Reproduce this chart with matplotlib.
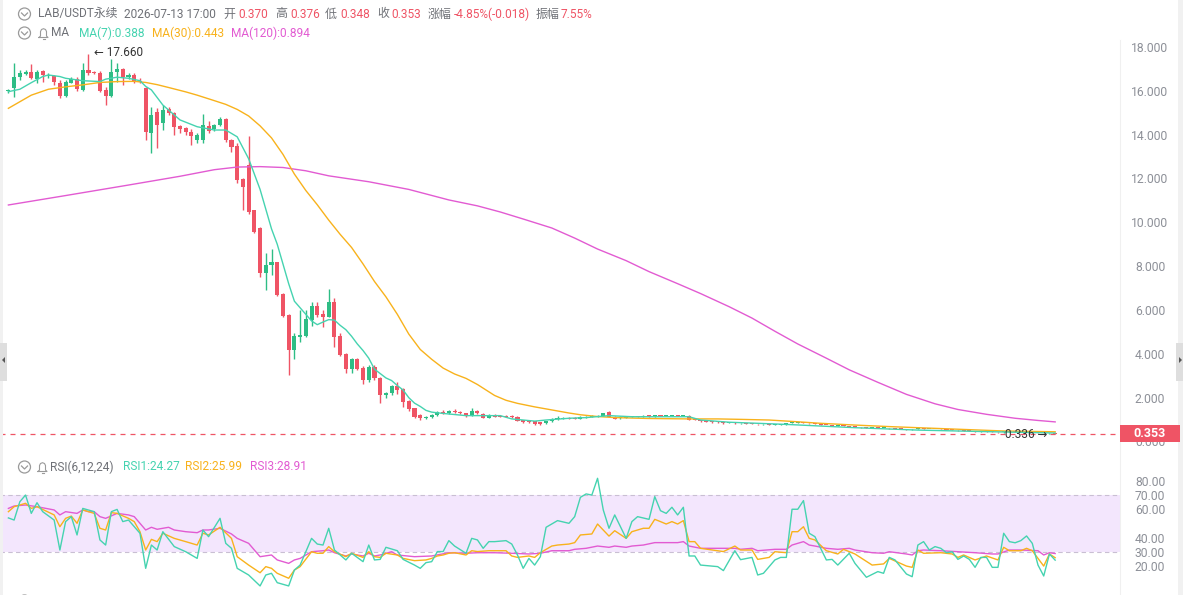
import matplotlib
matplotlib.use("Agg")
import matplotlib.pyplot as plt
from matplotlib.patches import Rectangle, Ellipse, Polygon
from matplotlib.lines import Line2D

plt.rcParams['font.family'] = ['Roboto', 'Noto Sans CJK SC', 'DejaVu Sans']

# ---- candle data (oldest -> newest) ----
opens = [15.98, 16.11, 16.65, 16.75, 16.87, 16.53, 16.90, 16.67, 16.68, 16.37,
         15.76, 16.37, 16.52, 16.04, 16.95, 16.86, 16.83, 16.04, 15.76, 16.87,
         16.98, 16.65, 16.72, 16.45, 16.11, 14.06, 15.05, 14.52, 15.16, 14.97,
         14.40, 14.29, 14.14, 13.76, 13.76, 14.40, 14.24, 14.44, 14.70, 13.76,
         13.48, 11.96, 12.61, 10.56, 9.72, 7.70, 8.03, 8.20, 6.73, 5.77,
         4.17, 4.78, 4.81, 5.54, 6.18, 5.80, 5.69, 6.38, 4.81, 3.99,
         3.29, 3.75, 3.37, 2.80, 3.38, 2.88, 2.12, 2.20, 2.54, 2.38,
         1.86, 1.51, 1.21, 1.06, 1.12, 1.21, 1.36, 1.30, 1.41, 1.33,
         1.28, 1.18, 1.39, 1.24, 1.09, 1.21, 1.18, 1.18, 1.18, 1.13,
         0.98, 0.93, 0.93, 0.87, 0.83, 0.93, 1.02, 1.03, 1.09, 1.09,
         1.03, 1.09, 1.13, 1.13, 1.18, 1.33, 1.13, 1.05, 1.09, 1.13,
         1.15, 1.14, 1.17, 1.16, 1.19, 1.16, 1.17, 1.19, 1.18, 1.18,
         1.03, 0.98, 0.98, 0.93, 0.93, 0.90, 0.84, 0.86, 0.83, 0.85,
         0.82, 0.80, 0.78, 0.79, 0.76, 0.77, 0.78, 0.84, 0.86, 0.88,
         0.85, 0.83, 0.80, 0.76, 0.75, 0.72, 0.73, 0.70, 0.68, 0.66,
         0.64, 0.62, 0.63, 0.61, 0.62, 0.60, 0.58, 0.56, 0.55, 0.58,
         0.59, 0.57, 0.58, 0.56, 0.55, 0.54, 0.52, 0.51, 0.50, 0.48,
         0.46, 0.47, 0.45, 0.43, 0.42, 0.46, 0.45, 0.44, 0.45, 0.46,
         0.44, 0.40, 0.365, 0.370]
closes = [16.05, 16.65, 16.80, 16.85, 16.57, 16.87, 16.72, 16.72, 16.42, 15.76,
          16.42, 16.52, 16.07, 16.95, 16.80, 16.80, 16.01, 15.76, 16.87, 16.98,
          16.65, 16.72, 16.42, 16.38, 14.14, 14.90, 14.44, 15.13, 14.97, 14.37,
          14.24, 14.14, 13.94, 13.98, 14.44, 14.18, 14.44, 14.70, 13.76, 13.45,
          11.93, 11.62, 10.48, 9.57, 7.67, 8.05, 8.20, 6.68, 5.72, 4.17,
          4.81, 4.86, 5.57, 6.18, 5.77, 5.69, 6.38, 4.78, 3.94, 3.29,
          3.75, 3.29, 2.80, 3.41, 2.88, 2.12, 2.20, 2.54, 2.35, 1.82,
          1.47, 1.13, 1.06, 1.12, 1.21, 1.36, 1.30, 1.38, 1.33, 1.28,
          1.18, 1.38, 1.28, 1.09, 1.21, 1.13, 1.13, 1.13, 1.12, 0.94,
          0.87, 0.87, 0.78, 0.78, 0.93, 1.02, 1.09, 1.09, 1.03, 1.03,
          1.13, 1.13, 1.18, 1.18, 1.28, 1.13, 1.03, 1.13, 1.13, 1.15,
          1.14, 1.17, 1.16, 1.19, 1.17, 1.18, 1.19, 1.18, 1.19, 0.98,
          0.98, 0.93, 0.90, 0.87, 0.87, 0.84, 0.86, 0.83, 0.85, 0.82,
          0.80, 0.78, 0.79, 0.76, 0.77, 0.78, 0.84, 0.86, 0.88, 0.85,
          0.83, 0.80, 0.76, 0.75, 0.72, 0.73, 0.70, 0.68, 0.66, 0.64,
          0.62, 0.63, 0.61, 0.62, 0.60, 0.58, 0.56, 0.55, 0.58, 0.59,
          0.57, 0.58, 0.56, 0.55, 0.54, 0.52, 0.51, 0.50, 0.48, 0.46,
          0.47, 0.45, 0.43, 0.42, 0.46, 0.45, 0.44, 0.45, 0.46, 0.44,
          0.40, 0.37, 0.370, 0.353]
highs = [16.10, 17.29, 16.95, 16.95, 17.22, 16.95, 16.95, 16.80, 16.72, 16.50,
         16.50, 16.62, 16.62, 17.26, 17.66, 16.88, 16.88, 16.19, 17.44, 17.26,
         17.03, 16.80, 16.80, 16.57, 16.19, 15.28, 15.20, 15.35, 15.28, 15.05,
         14.44, 14.34, 14.24, 14.06, 14.94, 14.60, 14.49, 14.79, 14.74, 13.79,
         13.60, 12.00, 13.94, 10.56, 9.80, 8.61, 8.76, 8.20, 6.76, 5.80,
         4.93, 5.99, 5.99, 6.38, 6.38, 6.00, 6.94, 6.53, 4.93, 4.02,
         3.79, 3.79, 3.45, 3.49, 3.49, 2.96, 2.27, 2.58, 2.73, 2.43,
         1.90, 1.55, 1.25, 1.16, 1.25, 1.40, 1.44, 1.42, 1.50, 1.38,
         1.30, 1.55, 1.44, 1.28, 1.24, 1.25, 1.20, 1.20, 1.19, 1.15,
         1.00, 0.95, 0.95, 0.89, 0.95, 1.05, 1.18, 1.12, 1.11, 1.11,
         1.15, 1.15, 1.20, 1.20, 1.30, 1.39, 1.15, 1.15, 1.15, 1.17,
         1.17, 1.19, 1.19, 1.21, 1.21, 1.20, 1.21, 1.21, 1.21, 1.20,
         1.05, 1.00, 1.00, 0.95, 0.95, 0.92, 0.88, 0.87, 0.86, 0.86,
         0.83, 0.81, 0.80, 0.80, 0.78, 0.79, 0.85, 0.90, 0.89, 0.89,
         0.86, 0.84, 0.81, 0.77, 0.76, 0.74, 0.74, 0.71, 0.69, 0.67,
         0.65, 0.64, 0.64, 0.63, 0.63, 0.61, 0.59, 0.57, 0.59, 0.60,
         0.60, 0.59, 0.59, 0.57, 0.56, 0.55, 0.53, 0.52, 0.51, 0.49,
         0.48, 0.48, 0.46, 0.44, 0.47, 0.47, 0.46, 0.46, 0.47, 0.47,
         0.45, 0.41, 0.38, 0.376]
lows = [15.92, 15.73, 16.50, 16.70, 16.53, 16.35, 16.38, 16.60, 16.26, 15.66,
        15.73, 16.34, 16.01, 16.01, 16.72, 16.75, 15.96, 15.35, 15.73, 16.42,
        16.27, 16.52, 16.37, 16.34, 13.76, 13.15, 13.38, 14.22, 14.90, 13.98,
        14.06, 13.98, 13.53, 13.64, 13.60, 14.06, 14.18, 14.40, 13.68, 13.22,
        11.78, 10.56, 10.40, 9.49, 7.52, 6.91, 7.60, 6.64, 5.69, 3.03,
        3.75, 4.55, 4.78, 5.27, 5.66, 5.24, 5.66, 4.33, 3.90, 3.11,
        3.11, 3.26, 2.62, 2.73, 2.80, 1.77, 2.00, 2.12, 2.17, 1.59,
        1.40, 1.08, 0.98, 1.02, 1.08, 1.18, 1.26, 1.26, 1.30, 1.24,
        1.14, 1.15, 1.25, 1.05, 1.06, 1.10, 1.10, 1.11, 1.09, 0.92,
        0.85, 0.85, 0.76, 0.75, 0.80, 0.91, 1.00, 1.01, 1.01, 1.01,
        1.01, 1.07, 1.11, 1.11, 1.16, 1.11, 1.01, 1.03, 1.07, 1.11,
        1.12, 1.12, 1.14, 1.14, 1.15, 1.15, 1.15, 1.16, 1.16, 0.96,
        0.96, 0.91, 0.88, 0.85, 0.85, 0.82, 0.83, 0.82, 0.82, 0.80,
        0.78, 0.76, 0.77, 0.75, 0.75, 0.76, 0.77, 0.83, 0.85, 0.84,
        0.82, 0.79, 0.75, 0.74, 0.71, 0.71, 0.69, 0.67, 0.65, 0.63,
        0.61, 0.61, 0.60, 0.60, 0.59, 0.57, 0.55, 0.54, 0.54, 0.57,
        0.56, 0.56, 0.55, 0.54, 0.53, 0.51, 0.50, 0.49, 0.47, 0.45,
        0.45, 0.44, 0.42, 0.41, 0.41, 0.44, 0.43, 0.43, 0.44, 0.43,
        0.39, 0.36, 0.336, 0.348]

# ---- moving averages (candle index, value) ----
ma7_idx = [0, 2, 4, 6, 7, 9, 10, 13, 16, 17, 19, 21, 23, 24, 25, 27, 30, 33, 36, 38,
           40, 41, 42, 43, 44, 45, 46, 47, 48, 49, 50, 51, 52, 53, 54, 55, 56, 57, 58, 59,
           60, 61, 62, 63, 64, 65, 66, 67, 68, 69, 70, 71, 72, 73, 74, 76, 80, 86, 88, 92,
           94, 98, 101, 105, 109, 119, 121, 126, 136, 148, 159, 171, 183]
ma7_val = [15.96, 16.07, 16.37, 16.65, 16.72, 16.65, 16.57, 16.46, 16.42, 16.53, 16.62, 16.57, 16.46, 16.20, 16.04, 15.35, 14.67, 14.36, 14.21, 14.21,
           13.90, 13.40, 12.90, 12.20, 11.50, 10.60, 9.70, 9.00, 8.10, 7.20, 6.40, 6.10, 5.80, 5.50, 5.33, 5.45, 5.56, 5.54, 5.30, 5.10,
           4.80, 4.45, 4.15, 3.80, 3.30, 3.10, 2.90, 2.78, 2.55, 2.35, 2.00, 1.75, 1.60, 1.42, 1.34, 1.28, 1.18, 1.18, 1.03, 0.93,
           0.98, 1.06, 1.09, 1.18, 1.13, 1.13, 0.98, 0.88, 0.78, 0.63, 0.52, 0.45, 0.388]
ma30_idx = [0, 2, 4, 7, 10, 13, 16, 19, 22, 24, 26, 28, 31, 33, 36, 38, 40, 42, 44, 46,
            48, 50, 52, 54, 56, 58, 60, 62, 64, 66, 68, 70, 72, 74, 76, 78, 80, 82, 85, 87,
            89, 92, 95, 98, 100, 103, 106, 112, 119, 124, 128, 133, 138, 142, 148, 154, 160, 165, 170, 174,
            179, 183]
ma30_val = [15.20, 15.50, 15.80, 16.07, 16.18, 16.27, 16.38, 16.42, 16.43, 16.38, 16.28, 16.15, 15.95, 15.80, 15.55, 15.38, 15.15, 14.85, 14.40, 13.85,
            13.10, 12.20, 11.45, 10.80, 10.10, 9.45, 8.85, 8.10, 7.30, 6.60, 5.80, 4.90, 4.20, 3.75, 3.35, 3.08, 2.88, 2.60, 2.10, 1.88,
            1.74, 1.58, 1.44, 1.30, 1.22, 1.14, 1.09, 1.05, 1.03, 1.03, 1.01, 0.98, 0.90, 0.83, 0.75, 0.68, 0.62, 0.57, 0.52, 0.48,
            0.46, 0.443]
ma120_idx = [0, 10, 21, 30, 36, 40, 44, 48, 52, 56, 63, 70, 77, 82, 86, 90, 95, 99, 103, 108,
             112, 117, 121, 126, 130, 134, 138, 143, 147, 152, 157, 162, 166, 171, 176, 180, 183]
ma120_val = [10.79, 11.22, 11.70, 12.10, 12.40, 12.52, 12.54, 12.50, 12.35, 12.12, 11.85, 11.50, 11.02, 10.75, 10.47, 10.15, 9.74, 9.28, 8.78, 8.25,
             7.75, 7.20, 6.75, 6.15, 5.63, 5.03, 4.45, 3.80, 3.27, 2.70, 2.15, 1.72, 1.46, 1.24, 1.06, 0.96, 0.894]

# ---- RSI (candle index, value) ----
rsi1_idx = [0, 1, 2, 3, 4, 5, 6, 8, 9, 10, 11, 12, 13, 15, 16, 17, 18, 19, 20, 21,
            23, 24, 25, 26, 27, 29, 31, 33, 34, 35, 37, 38, 39, 40, 42, 44, 45, 46, 47, 49,
            50, 51, 53, 54, 55, 56, 57, 59, 60, 62, 63, 64, 65, 66, 68, 69, 71, 72, 73, 74,
            75, 76, 77, 78, 80, 81, 82, 83, 84, 85, 87, 88, 89, 90, 91, 92, 93, 94, 96, 98,
            99, 100, 101, 102, 103, 104, 105, 106, 107, 108, 109, 110, 112, 113, 114, 115, 116, 117, 118, 119,
            120, 121, 124, 125, 127, 128, 130, 131, 132, 134, 135, 136, 137, 138, 139, 140, 141, 143, 144, 145,
            147, 148, 150, 152, 153, 154, 155, 157, 158, 159, 160, 161, 162, 163, 164, 165, 166, 167, 168, 169,
            170, 171, 172, 173, 174, 175, 176, 177, 178, 179, 180, 181, 182, 183]
rsi1_val = [54, 52.5, 65.4, 70.1, 57.2, 64.7, 58.4, 52.5, 31.4, 51.4, 54.9, 42, 60.7, 58.4, 38.5, 34.9, 58.4, 60, 51.4, 52.5,
            43.2, 18.5, 34.9, 31.4, 44.3, 33.8, 30.2, 25.5, 45.5, 40.8, 53.7, 36.1, 32.6, 18.5, 13.8, 6.1, 13.8, 15, 8.4, 6.1,
            17.3, 20.8, 39.6, 35.6, 34.9, 46.7, 31.4, 24.4, 29.1, 23.2, 34.9, 24.4, 24.8, 33.3, 30.9, 24.8, 20.8, 18.5, 22.5, 23.2,
            30.3, 30.3, 38, 34.2, 29.1, 39.6, 38.5, 32.6, 37.3, 37.3, 38, 35.6, 27.9, 18.5, 25.5, 20.8, 26.7, 47.4, 52.1, 50.2,
            54.9, 68.5, 70.9, 70.1, 81.9, 59.6, 46.7, 56.1, 47.8, 39.6, 51.4, 54.9, 53, 69, 59.1, 57.2, 61.5, 56.1, 61.5, 27.2,
            27.2, 20.8, 19.7, 16.9, 30.9, 24.6, 26.2, 13.8, 15, 24.4, 26.2, 26.2, 60.1, 60.1, 66.2, 43.2, 40.8, 24.4, 24.8, 20.8,
            29.1, 22, 12.2, 16.2, 15, 26.2, 24.4, 14.5, 12.6, 34.9, 37.3, 31.4, 33.8, 32.6, 29.5, 30.2, 24.8, 27.2, 24.8, 19.2,
            26.2, 26.2, 19.2, 19.2, 43.2, 37.3, 36.5, 38, 41.3, 36.1, 20.8, 13.1, 28.6, 24.27]
rsi2_idx = [0, 1, 3, 4, 5, 8, 9, 10, 11, 12, 13, 15, 16, 17, 18, 19, 21, 22, 23, 24,
            25, 26, 27, 29, 31, 33, 34, 35, 37, 39, 40, 42, 44, 45, 46, 47, 49, 50, 51, 53,
            54, 55, 56, 57, 59, 60, 62, 63, 64, 65, 66, 68, 69, 71, 73, 74, 75, 76, 77, 78,
            80, 81, 82, 84, 87, 88, 89, 91, 92, 93, 95, 96, 98, 99, 100, 102, 103, 105, 106, 108,
            109, 111, 112, 113, 114, 115, 116, 117, 118, 119, 120, 121, 125, 127, 128, 130, 131, 133, 134, 136,
            137, 138, 139, 140, 141, 143, 145, 146, 148, 151, 153, 154, 157, 158, 159, 160, 163, 165, 166, 167,
            169, 171, 173, 174, 175, 177, 178, 179, 181, 182, 183]
rsi2_val = [58.4, 61.9, 64.3, 60.7, 61.9, 56.1, 47.8, 53.7, 55.3, 50.2, 59.6, 57.2, 46.7, 45.5, 57.7, 57.2, 53.7, 51.4, 44.3, 31.4,
            38.9, 37.3, 43.2, 39.6, 37.3, 34.9, 43.2, 42, 47.4, 39.6, 26.7, 20.8, 15.4, 19.7, 18.5, 15, 11.5, 17.3, 19.7, 30.2,
            29.1, 29.1, 33.8, 30.2, 26.7, 29.1, 26.2, 30.2, 26.7, 26.2, 29.1, 27.9, 25.5, 23.9, 24.4, 25.5, 27.2, 27.9, 29.1, 29.5,
            27.9, 30.9, 30.3, 30.9, 30.9, 27.2, 26.2, 27.2, 26.2, 29.5, 34.2, 34.9, 35.6, 36.6, 42, 42.7, 49.7, 41.2, 45, 39.6,
            44.3, 46.7, 46.7, 53, 51.4, 49.7, 51.4, 49.7, 52.1, 37.3, 37.3, 32.6, 30.3, 34.2, 31.4, 31.4, 24.8, 26.2, 30.2, 29.5,
            44.3, 44.3, 47.8, 39.6, 38.5, 30.9, 28.6, 31.9, 28.6, 20.8, 21.6, 25.5, 20.1, 19.2, 31.4, 29.1, 29.5, 28.6, 26.2, 27.9,
            24.4, 27.2, 24.4, 33.3, 30.9, 30.9, 32.6, 30.9, 20.1, 28.6, 25.99]
rsi3_idx = [0, 1, 3, 5, 8, 9, 10, 12, 13, 14, 15, 16, 17, 19, 21, 22, 24, 25, 26, 28,
            29, 31, 33, 34, 35, 37, 39, 40, 42, 44, 46, 47, 49, 50, 51, 53, 55, 56, 57, 59,
            60, 62, 63, 64, 65, 67, 68, 71, 74, 77, 80, 82, 85, 88, 91, 93, 95, 98, 99, 101,
            103, 105, 106, 108, 109, 111, 113, 115, 117, 118, 119, 121, 124, 127, 128, 130, 131, 134, 136, 137,
            139, 140, 141, 143, 145, 147, 148, 151, 153, 154, 157, 158, 159, 160, 163, 166, 169, 172, 173, 175,
            177, 180, 181, 182, 183]
rsi3_val = [60.7, 62.4, 63.1, 61.9, 59.6, 56.1, 58.4, 57.2, 59.6, 58.4, 58.4, 54.9, 53.7, 57.2, 56.1, 54.9, 45.5, 47.4, 46, 47.4,
            45.5, 44.3, 43.6, 45.5, 45.5, 46.7, 42.7, 39.6, 36.1, 26.7, 27.9, 24.4, 22, 24.4, 25.5, 30.2, 30.9, 31.4, 29.5, 27.2,
            28.6, 27.2, 29.1, 27.2, 27.9, 30.2, 27.9, 26.7, 27.2, 29.5, 29.1, 29.5, 29.5, 29.1, 28.6, 29.1, 30.9, 30.9, 31.9, 32.6,
            34.2, 33.3, 34.2, 33.3, 34.2, 34.9, 36.6, 36.6, 36.6, 37.3, 34.2, 32.6, 32.6, 32.6, 31.9, 32.6, 30.9, 31.9, 31.9, 34.9,
            37.3, 34.9, 34.2, 32.6, 31.9, 32.6, 31.4, 29.5, 29.1, 30.2, 28.6, 27.9, 30.9, 31.4, 30.9, 30.2, 29.5, 28.6, 28.6, 31.4,
            31.4, 30.9, 27.9, 29.5, 28.91]

price_ticks = [0, 2, 4, 6, 8, 10, 12, 14, 16, 18]
rsi_ticks = [20, 30, 40, 60, 70, 80]
last_price = 0.353
high_mark = (14, 17.660)
low_mark = (182, 0.336)

GREEN = '#2ebd85'
RED = '#ef5465'
TEAL = '#45d3b0'
ORANGE = '#f8b21c'
MAGENTA = '#e25bd2'
GRAY = '#6f7177'
TICK = '#8d9098'

W, H = 1183, 595
def fx(x):
    return x / W
def fy(y):
    return 1 - y / H

fig = plt.figure(figsize=(W / 100, H / 100), dpi=100)
ax = fig.add_axes([0, fy(452), fx(1120), (452 - 40) / H])
rx = fig.add_axes([0, fy(592), fx(1120), (592 - 455) / H])

xlim = (-8.4 / 5.72, (1120 - 8.4) / 5.72)

# candles
for i in range(len(closes)):
    o, h, l, c = opens[i], highs[i], lows[i], closes[i]
    col = GREEN if c >= o else RED
    ax.vlines(i, l, h, color=col, lw=1, zorder=2)
    ax.bar(i, max(abs(c - o), 0.035), bottom=min(o, c), width=0.72, color=col, lw=0, zorder=2)

ax.plot(ma120_idx, ma120_val, color=MAGENTA, lw=1, zorder=3)
ax.plot(ma30_idx, ma30_val, color=ORANGE, lw=1, zorder=3)
ax.plot(ma7_idx, ma7_val, color=TEAL, lw=1, zorder=3)

ax.axhline(last_price, color=RED, lw=0.9, ls=(0, (4, 4)), zorder=1)

ax.annotate('\u2190 %.3f' % high_mark[1], xy=high_mark, xytext=(4, 1.2), textcoords='offset points',
            ha='left', va='center', fontsize=8.5, color='#333333',
            family=['Roboto', 'DejaVu Sans'])
ax.annotate('%.3f \u2192' % low_mark[1], xy=low_mark, xytext=(-1.5, 0), textcoords='offset points',
            ha='right', va='center', fontsize=8.5, color='#333333',
            family=['Roboto', 'DejaVu Sans'])

ax.set_xlim(*xlim)
ax.set_ylim((441.5 - 452) / 21.92, (441.5 - 40) / 21.92)
ax.set_xticks([])
ax.set_yticks(price_ticks)
ax.set_yticklabels(['%.3f' % v for v in price_ticks])

# RSI panel
rx.fill_between(xlim, 30, 70, color='#f3e6fd', lw=0, zorder=0)
for lvl in (30, 70):
    rx.axhline(lvl, color='#c9bfd3', lw=0.8, ls=(0, (4, 3)), zorder=1)
rx.plot(rsi3_idx, rsi3_val, color=MAGENTA, lw=1, zorder=3)
rx.plot(rsi2_idx, rsi2_val, color=ORANGE, lw=1, zorder=3)
rx.plot(rsi1_idx, rsi1_val, color=TEAL, lw=1, zorder=3)
rx.set_xlim(*xlim)
rx.set_ylim(80 - (592 - 481) / 1.42, 80 + (481 - 455) / 1.42)
rx.set_xticks([])
rx.set_yticks(rsi_ticks)
rx.set_yticklabels(['%.2f' % v for v in rsi_ticks])

for a in (ax, rx):
    for s in a.spines.values():
        s.set_visible(False)
    a.yaxis.tick_right()
    a.tick_params(axis='y', length=0, pad=21.6, labelsize=8.7, labelcolor=TICK)
    for lab in a.get_yticklabels():
        lab.set_horizontalalignment('center')
    a.patch.set_alpha(0)

# frame decorations
fig.add_artist(Line2D([fx(1120), fx(1120)], [fy(40), fy(595)], color='#f0f0f0', lw=0.8))
fig.add_artist(Rectangle((fx(1178), 0), fx(5), 1, color='#f1f1f1', lw=0))
fig.add_artist(Rectangle((0, 0), fx(3), 1, color='#f1f1f1', lw=0))
fig.add_artist(Rectangle((0, fy(381)), fx(7), 38 / H, color='#dedede', lw=0))
fig.add_artist(Rectangle((fx(1176), fy(381)), fx(7), 38 / H, color='#dedede', lw=0))
fig.add_artist(Polygon([[fx(1179), fy(357)], [fx(1182), fy(360)], [fx(1179), fy(363)]], color='#555555', lw=0))
fig.add_artist(Polygon([[fx(5), fy(357)], [fx(2), fy(360)], [fx(5), fy(363)]], color='#555555', lw=0))

# last price tag
fig.add_artist(Rectangle((fx(1120), fy(442)), fx(60), 17 / H, color=RED, lw=0, zorder=5))
fig.text(fx(1150), fy(433.5), '%.3f' % last_price, color='white', ha='center', va='center',
         fontsize=9, fontweight='bold', zorder=6)

def icon_circle(cx, cy):
    fig.add_artist(Ellipse((fx(cx), fy(cy)), 12 / W, 12 / H, fill=False, ec='#9a9a9a', lw=0.9))
    fig.add_artist(Line2D([fx(cx - 3), fx(cx), fx(cx + 3)], [fy(cy - 1), fy(cy + 2), fy(cy - 1)],
                          color='#9a9a9a', lw=0.9))

def icon_bell(x0, cy):
    pts = [(0, 4.5), (1.5, 3), (1.5, -1.5), (2.5, -3.5), (4.5, -4.3), (6.5, -3.5), (7.5, -1.5),
           (7.5, 3), (9, 4.5), (0, 4.5)]
    fig.add_artist(Line2D([fx(x0 + p[0]) for p in pts], [fy(cy + p[1]) for p in pts],
                          color='#9a9a9a', lw=0.8))
    fig.add_artist(Line2D([fx(x0 + 3.5), fx(x0 + 5.5)], [fy(cy + 6), fy(cy + 6)], color='#9a9a9a', lw=0.8))

def label(x, y, s, color=GRAY):
    fig.text(fx(x), fy(y), s, color=color, fontsize=8.6, ha='left', va='center')

# header line 1
icon_circle(24.5, 14)
label(38, 14, 'LAB/USDT永续')
label(124, 14, '2026-07-13 17:00')
label(223, 14, '开')
label(238, 14, '0.370', RED)
label(275, 14, '高')
label(290, 14, '0.376', RED)
label(325, 14, '低')
label(340, 14, '0.348', RED)
label(377, 14, '收')
label(391, 14, '0.353', RED)
label(428, 14, '涨幅')
label(454, 14, '-4.85%(-0.018)', RED)
label(536, 14, '振幅')
label(561, 14, '7.55%', RED)

# header line 2
icon_circle(24.5, 33)
icon_bell(39, 33)
label(51, 33, 'MA')
label(79, 33, 'MA(7):0.388', TEAL)
label(152, 33, 'MA(30):0.443', ORANGE)
label(231, 33, 'MA(120):0.894', MAGENTA)

# RSI header
icon_circle(24.5, 467)
icon_bell(38, 467)
label(50, 467, 'RSI(6,12,24)')
label(123, 467, 'RSI1:24.27', TEAL)
label(185, 467, 'RSI2:25.99', ORANGE)
label(250, 467, 'RSI3:28.91', MAGENTA)

# next panel header, cut off at the bottom
icon_circle(24.5, 601)

fig.savefig('out.png', dpi=100)
